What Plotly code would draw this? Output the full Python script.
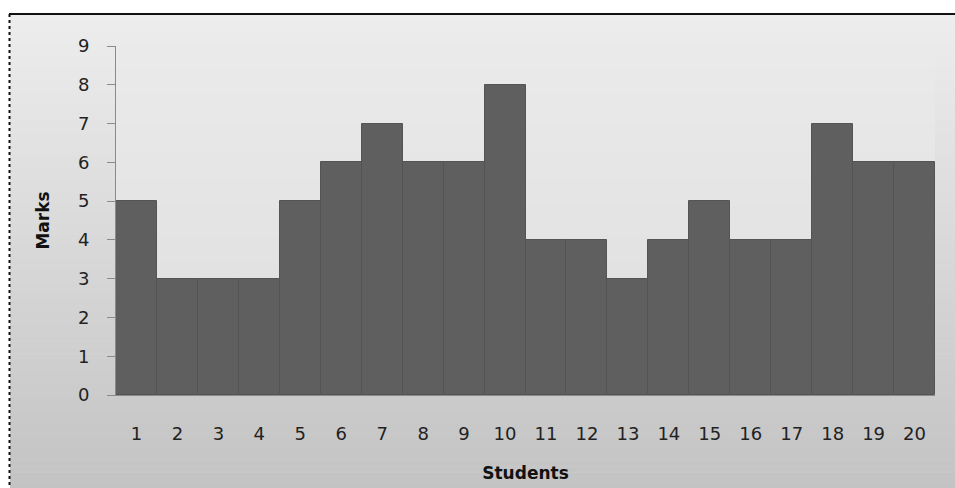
import plotly.graph_objects as go

# Marks scored by each student
students = [str(i) for i in range(1, 21)]
marks = [5, 3, 3, 3, 5, 6, 7, 6, 6, 8, 4, 4, 3, 4, 5, 4, 4, 7, 6, 6]
y_ticks = list(range(0, 10))

W, H = 955, 488
ML, MR, MT, MB = 116, 20, 46, 93
PW, PH = W - ML - MR, H - MT - MB


def px_x(px):
    return (px - ML) / PW


def px_y(py):
    return (H - MB - py) / PH


def lerp_grey(a, b, t):
    v = round(a + (b - a) * t)
    return f"rgb({v},{v},{v})"


shapes = []
# chart area gradient (light at top, darker at bottom)
n = 80
top, bot = 14, H + 2
for i in range(n):
    y0 = top + (bot - top) * i / n
    y1 = top + (bot - top) * (i + 1) / n + 0.6
    shapes.append(dict(type="rect", xref="paper", yref="paper", layer="below",
                       x0=px_x(10), x1=px_x(W + 2), y0=px_y(y1), y1=px_y(y0),
                       fillcolor=lerp_grey(237, 195, i / (n - 1)), line_width=0))
# plot area gradient
n2 = 50
for i in range(n2):
    y0 = MT + PH * i / n2
    y1 = MT + PH * (i + 1) / n2 + 0.6
    shapes.append(dict(type="rect", xref="paper", yref="paper", layer="below",
                       x0=0, x1=1, y0=px_y(y1), y1=px_y(y0),
                       fillcolor=lerp_grey(234, 222, i / (n2 - 1)), line_width=0))
# chart border
shapes.append(dict(type="line", xref="paper", yref="paper", layer="above",
                   x0=px_x(9), x1=px_x(W + 2), y0=px_y(14), y1=px_y(14),
                   line=dict(color="#111111", width=2)))
shapes.append(dict(type="line", xref="paper", yref="paper", layer="above",
                   x0=px_x(9.5), x1=px_x(9.5), y0=px_y(14), y1=px_y(H + 2),
                   line=dict(color="#111111", width=2, dash="dot")))

fig = go.Figure(go.Bar(
    x=students, y=marks,
    marker=dict(color="#5f5f5f", line=dict(color="#545454", width=1)),
))

fig.update_layout(
    width=W, height=H,
    margin=dict(l=ML, r=MR, t=MT, b=MB),
    paper_bgcolor="white",
    plot_bgcolor="rgba(0,0,0,0)",
    bargap=0,
    showlegend=False,
    shapes=shapes,
    font=dict(family="DejaVu Sans, sans-serif", color="#222222"),
    xaxis=dict(
        range=[-0.5, 19.5], automargin=False,
        showgrid=False, zeroline=False,
        showline=True, linecolor="#8a8a8a", linewidth=1,
        ticks="outside", ticklen=22, tickcolor="rgba(0,0,0,0)",
        tickfont=dict(size=18),
        title=dict(text="<b>Students</b>", font=dict(size=17, color="#111111"), standoff=24),
    ),
    yaxis=dict(
        range=[0, 9], tickvals=y_ticks, automargin=False,
        showgrid=False, zeroline=False,
        showline=True, linecolor="#8a8a8a", linewidth=1,
        ticks="outside", ticklen=8, tickcolor="#8a8a8a",
        ticklabelstandoff=14,
        tickfont=dict(size=18),
        title=dict(text="<b>Marks</b>", font=dict(size=17, color="#111111"), standoff=23),
    ),
)

fig.write_html("out.html")
